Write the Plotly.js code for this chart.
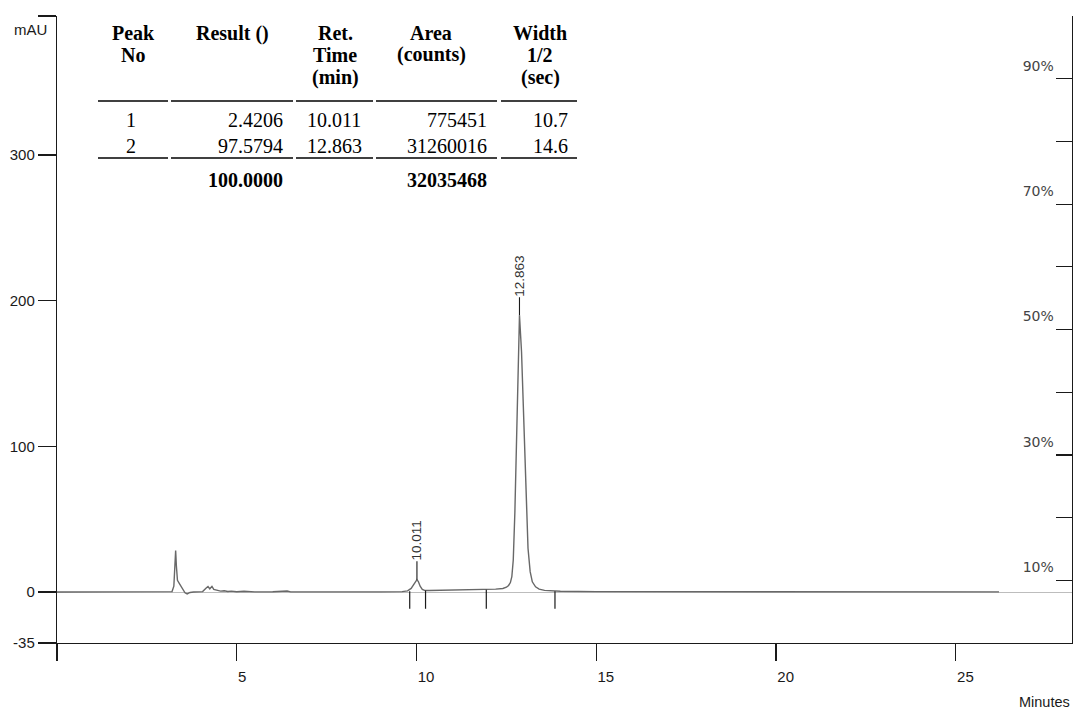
<!DOCTYPE html>
<html><head><meta charset="utf-8">
<script src="https://cdn.plot.ly/plotly-3.0.1.min.js"></script>
<style>body{margin:0;background:#fff}#chart{width:1074px;height:711px}</style>
</head><body><div id="chart"></div>
<script>
// ---- data ----
const timeMin = [0, 3.0, 3.2, 3.25, 3.28, 3.30, 3.32, 3.35, 3.40, 3.48, 3.56, 3.62, 3.70, 3.80,
  4.05, 4.15, 4.20, 4.25, 4.31, 4.36, 4.45, 4.55, 4.65, 4.75, 4.85, 5.0, 5.2, 5.5, 6.0, 6.3, 6.4, 6.5,
  7.0, 8.0, 9.0, 9.6, 9.75, 9.85, 9.93, 9.97, 10.011, 10.05, 10.10, 10.16, 10.24, 10.35, 10.6, 11.0,
  11.5, 11.9, 12.2, 12.4, 12.5, 12.56, 12.61, 12.65, 12.69, 12.735, 12.78, 12.82, 12.863, 12.92,
  12.98, 13.04, 13.10, 13.16, 13.22, 13.31, 13.41, 13.56, 13.76, 14.0, 15.0, 18.0, 22.0, 26.2];
const absMAU = [0, 0, 0.3, 4, 20, 28.5, 18, 8, 6, 3, -0.5, -1.3, -0.3, 0,
  0.3, 2.8, 3.8, 2.2, 3.9, 1.8, 1.0, 0.6, 0.9, 0.4, 0.6, 0.2, 0.5, 0.1, 0.2, 0.2, 0.7, 0.1,
  0, 0, 0.1, 0.3, 0.8, 2.5, 5.5, 7.5, 8.5, 7.2, 4.0, 1.8, 1.0, 1.0, 1.1, 1.2,
  1.4, 1.6, 2.0, 2.4, 3.3, 4.5, 6.5, 10.5, 22, 55, 110, 160, 190, 165,
  115, 64, 30, 14, 7, 3.6, 2.0, 1.1, 0.7, 0.5, 0.3, 0.2, 0.1, 0.1];
const peakTimes = [10.011, 12.863];
const peakHeights = [8.5, 190];
const peakLabels = ['10.011', '12.863'];
const markerTimes = [9.81, 10.25, 11.94, 13.85];
const markerLevels = [0.5, 1.0, 1.6, 0.6];
const xTickVals = [0, 5, 10, 15, 20, 25];
const xTickText = ['', '5', '10', '15', '20', '25'];
const yTickVals = [-35, 0, 100, 200, 300];
const yTickText = ['-35', '0', '100', '200', '300'];
const pctTickVals = [0, 10, 20, 30, 40, 50, 60, 70, 80, 90, 100];
const pctTickText = ['', '10%', '', '30%', '', '50%', '', '70%', '', '90%', ''];
// table
const headPeak = ['Peak', 'No'];
const headResult = ['Result ()'];
const headRet = ['Ret.', 'Time', '(min)'];
const headArea = ['Area', '(counts)'];
const headWidth = ['Width', '1/2', '(sec)'];
const peakNo = ['1', '2'];
const resultPct = ['2.4206', '97.5794'];
const retTime = ['10.011', '12.863'];
const areaCounts = ['775451', '31260016'];
const widthSec = ['10.7', '14.6'];
const totalResult = '100.0000';
const totalArea = '32035468';

// ---- geometry / style ----
const W = 1074, H = 711, L = 57, R = 2, T = 16, B = 68;
const pw = W - L - R, ph = H - T - B;
const px2x = p => (p - L) / pw;
const py2y = p => 1 - (p - T) / ph;
const X_MAX = 28.23, Y_MIN = -35, Y_MAX = 395.5;
const MARK_BOTTOM = -11.5;
const ink = '#1a1a1a';

const mx = [], my = [];
markerTimes.forEach((t, i) => { mx.push(t, t, null); my.push(markerLevels[i], MARK_BOTTOM, null); });

const traces = [
  {x: timeMin, y: absMAU, mode: 'lines', line: {color: '#686868', width: 1.4}, hoverinfo: 'skip', showlegend: false},
  {x: mx, y: my, mode: 'lines', line: {color: ink, width: 1.2}, hoverinfo: 'skip', showlegend: false},
  {x: [0], y: [0], yaxis: 'y2', mode: 'markers', marker: {opacity: 0}, hoverinfo: 'skip', showlegend: false}
];

const serif = 'Liberation Serif, Times New Roman, serif';
const sans = 'Liberation Sans, Arial, sans-serif';
const annotations = [];
function txt(text, xpx, ypx, anchor, bold, size) {
  annotations.push({xref: 'paper', yref: 'paper', x: px2x(xpx), y: py2y(ypx), text: bold ? '<b>' + text + '</b>' : text,
    showarrow: false, xanchor: anchor, yanchor: 'middle',
    font: {family: serif, size: size || 20, color: '#000'}});
}
const headY = [33, 55, 77];
headPeak.forEach((s, i) => txt(s, 133, headY[i], 'center', true));
headResult.forEach((s, i) => txt(s, 232, headY[i], 'center', true));
headRet.forEach((s, i) => txt(s, 335, headY[i], 'center', true));
headArea.forEach((s, i) => txt(s, 431, headY[i], 'center', true));
headWidth.forEach((s, i) => txt(s, 540, headY[i], 'center', true));
const rowY = [120, 146];
peakNo.forEach((s, i) => txt(s, 131, rowY[i], 'center'));
resultPct.forEach((s, i) => txt(s, 285, rowY[i], 'right'));
retTime.forEach((s, i) => txt(s, 334, rowY[i], 'center'));
areaCounts.forEach((s, i) => txt(s, 489, rowY[i], 'right'));
widthSec.forEach((s, i) => txt(s, 570, rowY[i], 'right'));
txt(totalResult, 285, 180, 'right', true);
txt(totalArea, 489, 180, 'right', true);

const segs = [[98, 168], [171, 293], [296, 373], [376, 497], [501, 577]];
const shapes = [];
[101, 158].forEach(yy => segs.forEach(s => shapes.push({type: 'line', xref: 'paper', yref: 'paper',
  x0: px2x(s[0]), x1: px2x(s[1]), y0: py2y(yy), y1: py2y(yy), line: {color: '#000', width: 1.3}})));

annotations.push({xref: 'paper', yref: 'paper', x: px2x(30), y: py2y(30), text: 'mAU', showarrow: false,
  xanchor: 'center', yanchor: 'middle', font: {family: sans, size: 15, color: ink}});
annotations.push({xref: 'paper', yref: 'paper', x: px2x(1072), y: py2y(702), text: 'Minutes', showarrow: false,
  xanchor: 'right', yanchor: 'middle', font: {family: sans, size: 14.5, color: ink}});
peakTimes.forEach((t, i) => annotations.push({xref: 'x', yref: 'y', x: t, y: peakHeights[i], text: peakLabels[i],
  textangle: -90, showarrow: true, arrowhead: 0, arrowwidth: 1.1, arrowcolor: ink, ax: 0, ay: -39, standoff: 0,
  xanchor: 'center', yanchor: 'middle', borderpad: 0, font: {family: sans, size: 13.5, color: '#333'}}));

const layout = {
  width: W, height: H, margin: {l: L, r: R, t: T, b: B}, paper_bgcolor: '#fff', plot_bgcolor: '#fff',
  showlegend: false, shapes: shapes, annotations: annotations,
  xaxis: {range: [0, X_MAX], tickvals: xTickVals.concat([X_MAX - 0.001]), ticktext: xTickText.concat(['']),
    ticks: 'outside', ticklen: 17, tickwidth: 1.2, tickcolor: ink, ticklabelposition: 'outside right',
    ticklabelstandoff: 20,
    showline: true, linecolor: ink, linewidth: 1.2, showgrid: false, zeroline: false,
    tickfont: {family: sans, size: 15, color: ink}},
  yaxis: {range: [Y_MIN, Y_MAX], tickvals: yTickVals.concat([Y_MAX - 0.05]), ticktext: yTickText.concat(['']),
    ticks: 'outside', ticklen: 18, tickwidth: 1.2, tickcolor: ink, showline: true, linecolor: ink, linewidth: 1.2,
    showgrid: false, zeroline: true, zerolinecolor: '#bdbdbd', zerolinewidth: 1,
    tickfont: {family: sans, size: 15, color: ink}},
  yaxis2: {overlaying: 'y', side: 'right', anchor: 'x', range: [0, 100], tickvals: pctTickVals, ticktext: pctTickText,
    ticks: 'inside', ticklen: 16, tickwidth: 1.2, tickcolor: ink, showline: true, linecolor: ink, linewidth: 1.2,
    ticklabelposition: 'inside', ticklabelshift: -13, ticklabelstandoff: 2, showgrid: false, zeroline: false,
    tickfont: {family: 'DejaVu Sans, sans-serif', size: 14, color: '#444'}}
};
Plotly.newPlot('chart', traces, layout, {staticPlot: true, displayModeBar: false});
</script></body></html>
